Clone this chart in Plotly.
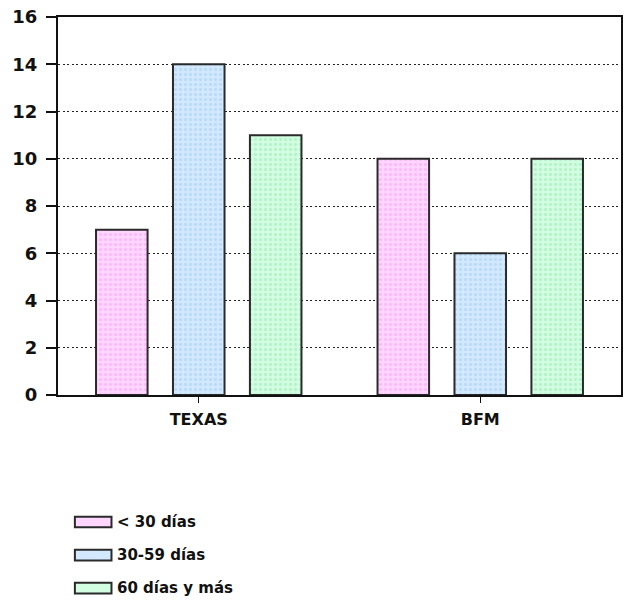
import plotly.graph_objects as go

# Casos por categoría de antigüedad
categorias = ["TEXAS", "BFM"]
series = ["< 30 días", "30-59 días", "60 días y más"]
valores = [
    [7, 10],
    [14, 6],
    [11, 10],
]
y_ticks = [0, 2, 4, 6, 8, 10, 12, 14, 16]

fondos = ["#ffd6ff", "#d3e9ff", "#d2ffe2"]
puntos = ["#f5a3f5", "#a6cbf3", "#9be6b4"]

fig = go.Figure()
for nombre, vals, bg, fg in zip(series, valores, fondos, puntos):
    fig.add_trace(go.Bar(
        x=categorias, y=vals, name=nombre,
        marker=dict(
            color=bg,
            line=dict(color="#2a2a2a", width=2),
            pattern=dict(shape=".", fgcolor=fg, bgcolor=bg, size=5, solidity=0.35),
        ),
        showlegend=False,
    ))

negrita = dict(family="DejaVu Sans", color="#111111", weight="bold")

fig.update_layout(
    width=626, height=609,
    margin=dict(l=58, r=3, t=17, b=214),
    paper_bgcolor="white", plot_bgcolor="white",
    barmode="group", bargap=0.18, bargroupgap=0.33,
    xaxis=dict(
        showline=True, linecolor="#111111", linewidth=2, mirror=True,
        ticks="outside", ticklen=6, tickcolor="#111111", tickwidth=1,
        ticklabelstandoff=3,
        tickfont=dict(size=16, **negrita),
        showgrid=False,
    ),
    yaxis=dict(
        range=[0, 16], tickvals=y_ticks,
        showline=True, linecolor="#111111", linewidth=2, mirror=True,
        ticks="outside", ticklen=10, tickcolor="#111111", tickwidth=2,
        ticklabelstandoff=5,
        tickfont=dict(size=18, **negrita),
        showgrid=True, gridcolor="#222222", gridwidth=1.2, griddash="2px,2.5px",
        zeroline=False,
    ),
)

# Leyenda dibujada como muestras rectangulares anchas con su texto
fila0 = -0.336
paso = 0.0875
for i, (nombre, bg) in enumerate(zip(series, fondos)):
    yc = fila0 - i * paso
    fig.add_shape(
        type="rect", xref="paper", yref="paper",
        x0=0.03, x1=0.095, y0=yc - 0.014, y1=yc + 0.014,
        fillcolor=bg, line=dict(color="#2a2a2a", width=2),
    )
    fig.add_annotation(
        xref="paper", yref="paper", x=0.102, y=yc,
        xanchor="left", yanchor="middle", showarrow=False,
        text=nombre,
        font=dict(size=15, **negrita),
    )

fig.write_html("out.html")
